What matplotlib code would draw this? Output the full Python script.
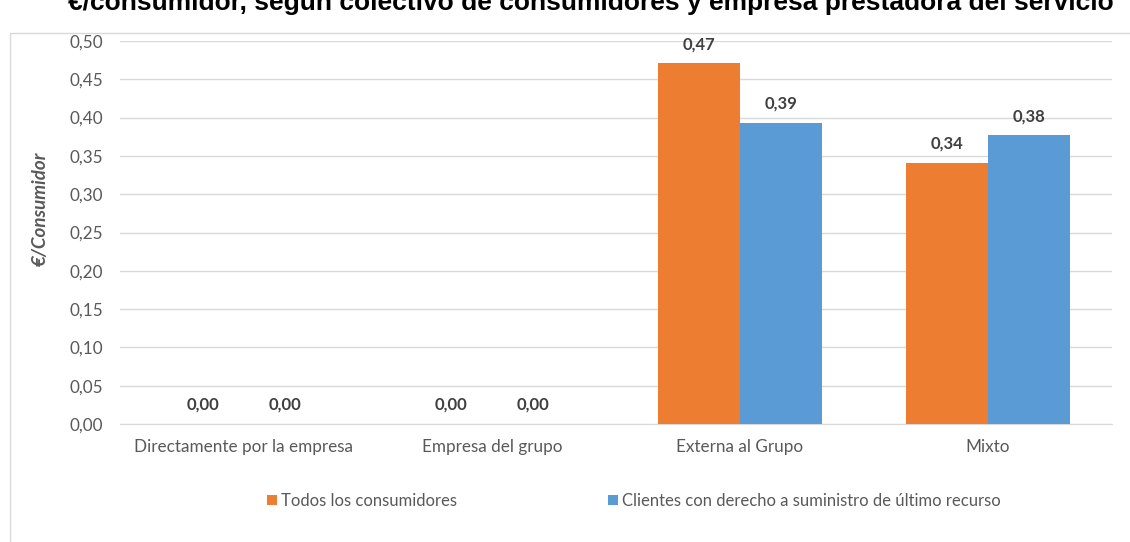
import matplotlib
matplotlib.use('Agg')
import numpy as np
import matplotlib.pyplot as plt
from matplotlib.patches import Rectangle
from matplotlib.ticker import FuncFormatter

categorias = ['Directamente por la empresa', 'Empresa del grupo', 'Externa al Grupo', 'Mixto']
todos = [0.0, 0.0, 0.471, 0.341]
clientes_sur = [0.0, 0.0, 0.393, 0.377]
series = ['Todos los consumidores', 'Clientes con derecho a suministro de último recurso']
titulo = '€/consumidor, según colectivo de consumidores y empresa prestadora del servicio'

c_orange = '#ED7D31'
c_blue = '#5B9BD5'
gris = '#595959'

plt.rcParams['font.family'] = ['Lato', 'DejaVu Sans']

fig = plt.figure(figsize=(11.3, 5.42), dpi=100)
fig.patches.append(Rectangle((10 / 1130, -0.01), 1.2, 1 - 33 / 542 + 0.01, transform=fig.transFigure,
                             fill=False, edgecolor='#D9D9D9', linewidth=1))
# title is cut at the top edge in the original image
fig.text(0.523, 1 - 10 / 542, titulo, ha='center', va='baseline', fontsize=19, fontweight='bold',
         family='Liberation Sans', color='black')

ax = fig.add_axes([120 / 1130, 1 - 424 / 542, (1112 - 120) / 1130, (424 - 41) / 542])
x = np.arange(len(categorias))
w = 0.33
b1 = ax.bar(x - w / 2, todos, w, color=c_orange, label=series[0], zorder=3)
b2 = ax.bar(x + w / 2, clientes_sur, w, color=c_blue, label=series[1], zorder=3)

for bars in (b1, b2):
    for r in bars:
        v = r.get_height()
        ax.annotate(f'{v:.2f}'.replace('.', ','), (r.get_x() + r.get_width() / 2, v),
                    xytext=(0, 8), textcoords='offset points', ha='center', va='bottom',
                    fontsize=12, fontweight='bold', color='#404040')

ax.set_xlim(-0.5, len(categorias) - 0.5)
ax.set_ylim(0, 0.5)
ax.set_yticks(np.arange(0, 0.51, 0.05))
ax.yaxis.set_major_formatter(FuncFormatter(lambda v, p: f'{v:.2f}'.replace('.', ',')))
ax.set_xticks(x)
ax.set_xticklabels(categorias)
ax.tick_params(axis='both', length=0, labelsize=12.3, labelcolor=gris)
ax.tick_params(axis='x', pad=11)
ax.tick_params(axis='y', pad=12)
ax.grid(axis='y', color='#D9D9D9', linewidth=1, zorder=0)
for s in ['top', 'right', 'left']:
    ax.spines[s].set_visible(False)
ax.spines['bottom'].set_color('#D9D9D9')
ax.set_ylabel('€/Consumidor', fontsize=13.5, fontweight='bold', style='italic', color=gris)
ax.yaxis.set_label_coords(-0.072, 0.561)

leg = fig.legend(handles=[b1, b2], labels=series, loc='center', bbox_to_anchor=(0.561, 1 - 501 / 542),
                 ncol=2, frameon=False, fontsize=12, handlelength=0.55, handleheight=0.55,
                 handletextpad=0.25, columnspacing=9.1)
for t in leg.get_texts():
    t.set_color(gris)

fig.savefig('out.png', dpi=100)
